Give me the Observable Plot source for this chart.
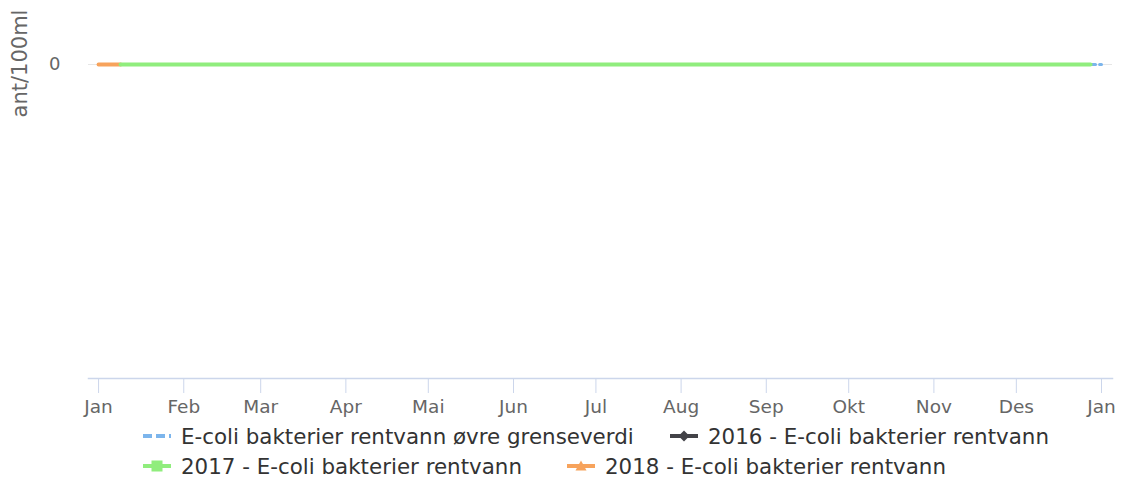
<!DOCTYPE html>
<html>
<head>
<meta charset="utf-8">
<script src="https://cdn.jsdelivr.net/npm/d3@7"></script>
<script src="https://cdn.jsdelivr.net/npm/@observablehq/plot@0.6"></script>
<style>
  html, body { margin: 0; padding: 0; background: #fff; }
  #wrap { position: relative; width: 1121px; height: 481px; font-family: "DejaVu Sans", sans-serif; }
  .leg { position: absolute; display: flex; align-items: center; font-size: 21.4px; color: #333; white-space: nowrap; }
  .leg svg { margin-right: 10px; }
</style>
</head>
<body>
<div id="wrap"></div>
<script>
// ---- data ----
const monthLabels = ["Jan", "Feb", "Mar", "Apr", "Mai", "Jun", "Jul", "Aug", "Sep", "Okt", "Nov", "Des"];
const monthTicks = ["2017-01-01","2017-02-01","2017-03-01","2017-04-01","2017-05-01","2017-06-01","2017-07-01","2017-08-01","2017-09-01","2017-10-01","2017-11-01","2017-12-01","2018-01-01"];
const yTicks = [0];
const yTitle = "ant/100ml";

const limitName = "E-coli bakterier rentvann øvre grenseverdi";
const limitDates = ["2017-01-01", "2018-01-01"];
const limitValues = [0, 0];

const s2016Name = "2016 - E-coli bakterier rentvann";
const s2016Dates = [];
const s2016Values = [];

const s2017Name = "2017 - E-coli bakterier rentvann";
const s2017Dates = ["2017-01-09", "2017-12-28"];
const s2017Values = [0, 0];

const s2018Name = "2018 - E-coli bakterier rentvann";
const s2018Dates = ["2017-01-01", "2017-01-09"];
const s2018Values = [0, 0];

const xDomain = ["2016-12-28T08:00:00Z", "2018-01-05T00:00:00Z"];

const toRows = (dates, values) => dates.map((d, i) => ({date: new Date(d), value: values[i]}));
const limitRows = toRows(limitDates, limitValues);
const rows2016 = toRows(s2016Dates, s2016Values);
const rows2017 = toRows(s2017Dates, s2017Values);
const rows2018 = toRows(s2018Dates, s2018Values);

const colors = {limit: "#7cb5ec", s2016: "#434348", s2017: "#90ed7d", s2018: "#f7a35c"};

const chart = Plot.plot({
  width: 1121,
  height: 420,
  marginLeft: 88,
  marginRight: 9,
  marginTop: 64,
  marginBottom: 42,
  style: {fontFamily: "DejaVu Sans, sans-serif", fontSize: "18px", color: "#666", background: "#fff", overflow: "visible"},
  x: {type: "utc", domain: xDomain.map(d => new Date(d))},
  y: {domain: [-1, 0]},
  marks: [
    Plot.ruleY([0], {stroke: "#e6e6e6", strokeWidth: 1}),
    Plot.axisX({
      ticks: monthTicks.map(d => new Date(d)),
      tickFormat: d => monthLabels[d.getUTCMonth()],
      tickSize: 15,
      tickPadding: 6,
      stroke: "#ccd6eb",
      strokeOpacity: 1,
      fill: "#666",
      fontSize: 18.5,
      label: null
    }),
    Plot.frame({anchor: "bottom", stroke: "#ccd6eb", strokeWidth: 1.5}),
    Plot.axisY({ticks: yTicks, tickFormat: d => String(d), tickSize: 0, tickPadding: 28, fill: "#666", fontSize: 18, label: null}),
    Plot.text([yTitle], {frameAnchor: "top-left", dx: -76, dy: -1, rotate: -90, text: d => d, textAnchor: "middle", fill: "#666", fontSize: 21}),
    Plot.line(limitRows, {x: "date", y: "value", stroke: colors.limit, strokeWidth: 3, strokeDasharray: "9,4"}),
    Plot.line(rows2016, {x: "date", y: "value", stroke: colors.s2016, strokeWidth: 4}),
    Plot.line(rows2018, {x: "date", y: "value", stroke: colors.s2018, strokeWidth: 4}),
    Plot.line(rows2017, {x: "date", y: "value", stroke: colors.s2017, strokeWidth: 4})
  ]
});

const wrap = document.getElementById("wrap");
wrap.appendChild(chart);

function symbol(color, marker, dashed) {
  let m = "";
  if (marker === "diamond") m = `<path d="M14 1.5 L19.5 7 L14 12.5 L8.5 7 Z" fill="${color}"/>`;
  if (marker === "square") m = `<rect x="8.5" y="1.5" width="11" height="11" fill="${color}"/>`;
  if (marker === "triangle") m = `<path d="M14 1.5 L19.5 11.5 L8.5 11.5 Z" fill="${color}"/>`;
  const dash = dashed ? `stroke-dasharray="9,4"` : "";
  return `<svg width="28" height="14" viewBox="0 0 28 14"><line x1="0" y1="7" x2="28" y2="7" stroke="${color}" stroke-width="4" ${dash}/>${m}</svg>`;
}

const legendItems = [
  {name: limitName, color: colors.limit, marker: null, dashed: true, left: 143, top: 436},
  {name: s2016Name, color: colors.s2016, marker: "diamond", dashed: false, left: 670, top: 436},
  {name: s2017Name, color: colors.s2017, marker: "square", dashed: false, left: 143, top: 466},
  {name: s2018Name, color: colors.s2018, marker: "triangle", dashed: false, left: 567, top: 466}
];
for (const it of legendItems) {
  const div = document.createElement("div");
  div.className = "leg";
  div.style.left = it.left + "px";
  div.style.top = (it.top - 13) + "px";
  div.style.height = "26px";
  div.innerHTML = symbol(it.color, it.marker, it.dashed) + `<span>${it.name}</span>`;
  wrap.appendChild(div);
}
</script>
</body>
</html>
